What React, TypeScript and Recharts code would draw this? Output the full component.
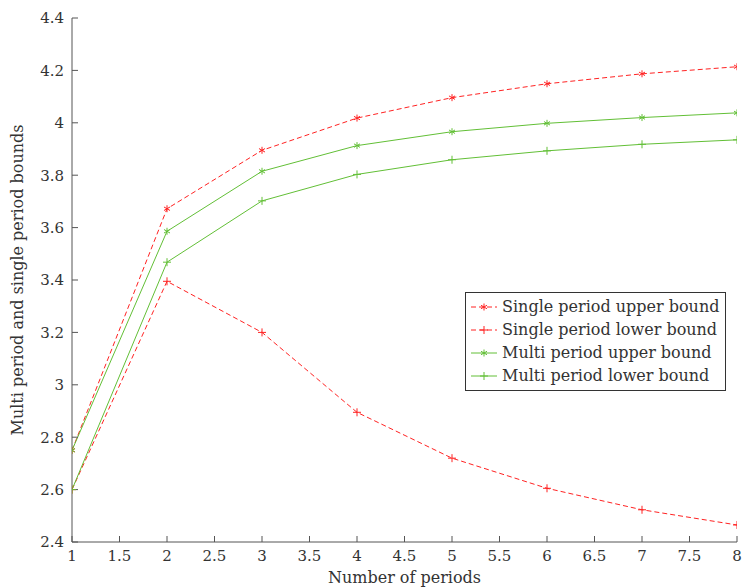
import React from 'react';
import { Label, Line, LineChart, XAxis, YAxis } from 'recharts';

const RED = '#f22';
const GREEN = '#62bf36';
const AXIS = '#555';
const FONT = '"DejaVu Serif", serif';

const periods = [1, 2, 3, 4, 5, 6, 7, 8];
const singleUpper = [2.75, 3.672, 3.895, 4.018, 4.096, 4.149, 4.187, 4.214];
const singleLower = [2.6, 3.395, 3.2, 2.895, 2.72, 2.605, 2.523, 2.465];
const multiUpper = [2.75, 3.586, 3.815, 3.913, 3.966, 3.998, 4.02, 4.038];
const multiLower = [2.6, 3.468, 3.702, 3.803, 3.859, 3.893, 3.918, 3.935];

const xTicks = [1, 1.5, 2, 2.5, 3, 3.5, 4, 4.5, 5, 5.5, 6, 6.5, 7, 7.5, 8];
const yTicks = [2.4, 2.6, 2.8, 3, 3.2, 3.4, 3.6, 3.8, 4, 4.2, 4.4];

const data = periods.map((p, i) => ({
  period: p,
  singleUpper: singleUpper[i],
  singleLower: singleLower[i],
  multiUpper: multiUpper[i],
  multiLower: multiLower[i],
}));

const series = [
  { key: 'singleUpper', name: 'Single period upper bound', color: RED, dash: '5 3', mark: 'star' },
  { key: 'singleLower', name: 'Single period lower bound', color: RED, dash: '5 3', mark: 'plus' },
  { key: 'multiUpper', name: 'Multi period upper bound', color: GREEN, dash: undefined, mark: 'star' },
  { key: 'multiLower', name: 'Multi period lower bound', color: GREEN, dash: undefined, mark: 'plus' },
];

function Marker({ cx, cy, color, mark }: { cx: number; cy: number; color: string; mark: string }) {
  if (mark === 'plus') {
    const r = 4;
    return (
      <g stroke={color} strokeWidth={1}>
        <line x1={cx - r} y1={cy} x2={cx + r} y2={cy} />
        <line x1={cx} y1={cy - r} x2={cx} y2={cy + r} />
      </g>
    );
  }
  const r = 3.5;
  const dx = r * Math.cos(Math.PI / 6);
  const dy = r * Math.sin(Math.PI / 6);
  return (
    <g stroke={color} strokeWidth={1}>
      <line x1={cx} y1={cy - r} x2={cx} y2={cy + r} />
      <line x1={cx - dx} y1={cy - dy} x2={cx + dx} y2={cy + dy} />
      <line x1={cx - dx} y1={cy + dy} x2={cx + dx} y2={cy - dy} />
    </g>
  );
}

function makeDot(color: string, mark: string) {
  return (props: any) => {
    const { cx, cy, index } = props;
    if (cx == null || cy == null) return <g key={index} />;
    return <Marker key={index} cx={cx} cy={cy} color={color} mark={mark} />;
  };
}

function LegendBox() {
  return (
    <div
      style={{
        position: 'absolute',
        left: 465,
        top: 292,
        border: '1px solid #333',
        background: '#fff',
        padding: '2px 6px 3px 4px',
        fontFamily: FONT,
        fontSize: 16,
        color: '#333',
        lineHeight: '23px',
      }}
    >
      {series.map((s) => (
        <div key={s.key} style={{ display: 'flex', alignItems: 'center', whiteSpace: 'nowrap' }}>
          <svg width={28} height={12} style={{ marginRight: 4 }}>
            <line x1={1} y1={6} x2={27} y2={6} stroke={s.color} strokeDasharray={s.dash} />
            <Marker cx={14} cy={6} color={s.color} mark={s.mark} />
          </svg>
          <span>{s.name}</span>
        </div>
      ))}
    </div>
  );
}

const tickStyle = { fontFamily: FONT, fontSize: 15, fill: '#333' };

export default function App() {
  return (
    <div style={{ position: 'absolute', left: 0, top: 0, width: 743, height: 588, background: '#fff' }}>
      <style>{`body{margin:0}`}</style>
      <LineChart width={743} height={588} data={data} margin={{ top: 18, right: 6, left: 0, bottom: 0 }}>
        <XAxis
          dataKey="period"
          type="number"
          domain={[1, 8]}
          ticks={xTicks}
          allowDataOverflow
          height={46}
          tickSize={-6}
          tickMargin={14}
          stroke={AXIS}
          tick={tickStyle}
          tickFormatter={(v: number) => String(v)}
        >
          <Label
            content={(p: any) => {
              const vb = p.viewBox;
              return (
                <text
                  x={vb.x + vb.width / 2}
                  y={vb.y + 41}
                  textAnchor="middle"
                  fontFamily={FONT}
                  fontSize={16}
                  fill="#333"
                >
                  Number of periods
                </text>
              );
            }}
          />
        </XAxis>
        <YAxis
          type="number"
          domain={[2.4, 4.4]}
          ticks={yTicks}
          allowDataOverflow
          width={72}
          tickSize={-6}
          tickMargin={14}
          stroke={AXIS}
          tick={tickStyle}
          tickFormatter={(v: number) => String(Math.round(v * 10) / 10)}
        >
          <Label
            content={(p: any) => {
              const vb = p.viewBox;
              const x = vb.x + 23;
              const y = vb.y + vb.height / 2;
              return (
                <text
                  x={x}
                  y={y}
                  transform={`rotate(-90, ${x}, ${y})`}
                  textAnchor="middle"
                  fontFamily={FONT}
                  fontSize={16}
                  fill="#333"
                >
                  Multi period and single period bounds
                </text>
              );
            }}
          />
        </YAxis>
        {series.map((s) => (
          <Line
            key={s.key}
            dataKey={s.key}
            name={s.name}
            type="linear"
            stroke={s.color}
            strokeWidth={1}
            strokeDasharray={s.dash}
            dot={makeDot(s.color, s.mark)}
            activeDot={false}
            isAnimationActive={false}
          />
        ))}
      </LineChart>
      <LegendBox />
    </div>
  );
}
